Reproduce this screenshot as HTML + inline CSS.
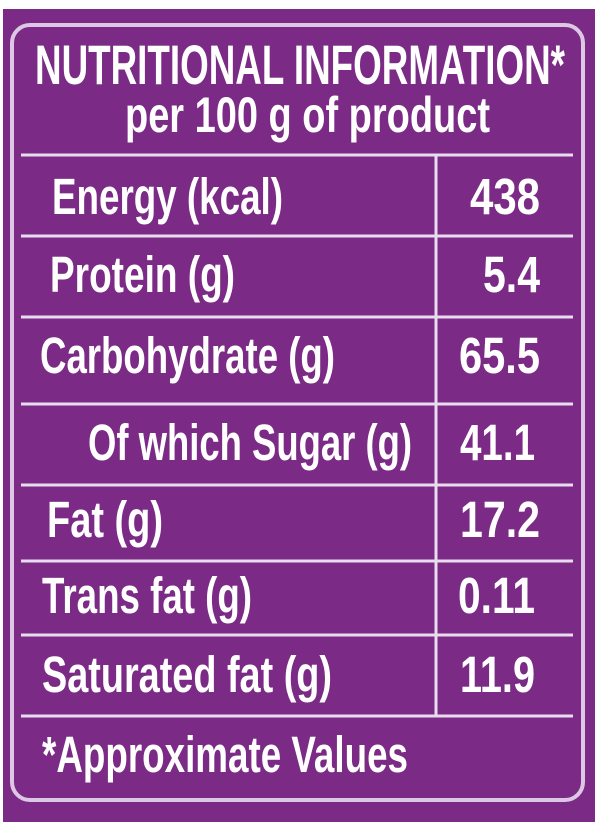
<!DOCTYPE html>
<html><head><meta charset="utf-8"><style>
html,body{margin:0;padding:0;background:#fff;width:600px;height:833px;overflow:hidden}
svg{display:block}
text{font-family:"Liberation Sans Narrow","Liberation Sans",sans-serif;font-weight:bold;fill:#fff}
</style></head><body>
<svg width="600" height="833" viewBox="0 0 600 833">
<rect x="3" y="9" width="592" height="813" fill="#7b2a86"/>
<rect x="12" y="25" width="571" height="775" rx="18" fill="none" stroke="#dcc8e4" stroke-width="4"/>
<g stroke="#e8dcef" stroke-width="3">
<line x1="21" y1="155" x2="573" y2="155"/>
<line x1="21" y1="236" x2="573" y2="236"/>
<line x1="21" y1="317" x2="573" y2="317"/>
<line x1="21" y1="404" x2="573" y2="404"/>
<line x1="21" y1="485" x2="573" y2="485"/>
<line x1="21" y1="561" x2="573" y2="561"/>
<line x1="21" y1="635" x2="573" y2="635"/>
<line x1="21" y1="716" x2="573" y2="716"/>
<line x1="436" y1="155" x2="436" y2="716"/>
</g>
<text x="35" y="84" font-size="56" textLength="530" lengthAdjust="spacingAndGlyphs">NUTRITIONAL INFORMATION*</text>
<text x="125" y="132" font-size="50" textLength="365" lengthAdjust="spacingAndGlyphs">per 100 g of product</text>
<g font-size="51">
<text x="52" y="214" textLength="231" lengthAdjust="spacingAndGlyphs">Energy (kcal)</text>
<text x="470" y="214" textLength="70" lengthAdjust="spacingAndGlyphs">438</text>
<text x="50" y="292" textLength="185" lengthAdjust="spacingAndGlyphs">Protein (g)</text>
<text x="483" y="292" textLength="57" lengthAdjust="spacingAndGlyphs">5.4</text>
<text x="40" y="373" textLength="295" lengthAdjust="spacingAndGlyphs">Carbohydrate (g)</text>
<text x="459" y="373" textLength="81" lengthAdjust="spacingAndGlyphs">65.5</text>
<text x="88" y="460" textLength="324" lengthAdjust="spacingAndGlyphs">Of which Sugar (g)</text>
<text x="460" y="460" textLength="75" lengthAdjust="spacingAndGlyphs">41.1</text>
<text x="47" y="537" textLength="116" lengthAdjust="spacingAndGlyphs">Fat (g)</text>
<text x="460" y="537" textLength="80" lengthAdjust="spacingAndGlyphs">17.2</text>
<text x="42" y="613" textLength="210" lengthAdjust="spacingAndGlyphs">Trans fat (g)</text>
<text x="458" y="613" textLength="77" lengthAdjust="spacingAndGlyphs">0.11</text>
<text x="42" y="692" textLength="290" lengthAdjust="spacingAndGlyphs">Saturated fat (g)</text>
<text x="460" y="692" textLength="75" lengthAdjust="spacingAndGlyphs">11.9</text>
<text x="42" y="772" textLength="366" lengthAdjust="spacingAndGlyphs">*Approximate Values</text>
</g>
</svg>
</body></html>
